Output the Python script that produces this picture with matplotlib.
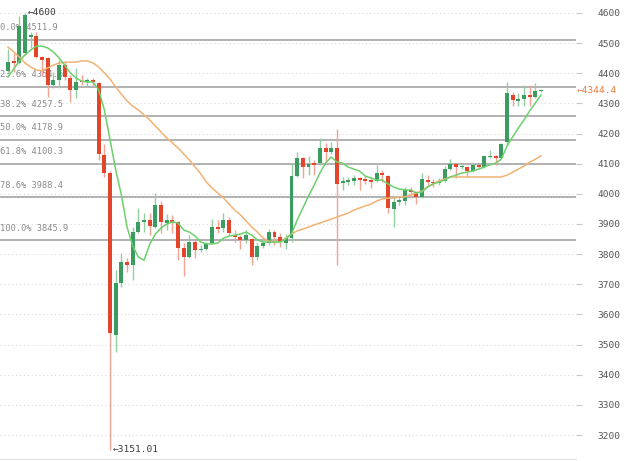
import matplotlib
matplotlib.use("Agg")
import matplotlib.pyplot as plt
import numpy as np

# ---------------- data ----------------
opens = [4408, 4440, 4434, 4467, 4520, 4524, 4455, 4450, 4361, 4378,
         4427, 4384, 4345, 4375, 4371, 4378, 4368, 4129, 4069, 3532,
         3704, 3774, 3764, 3873, 3906, 3913, 3890, 3963, 3903, 3912,
         3906, 3820, 3790, 3840, 3814, 3818, 3837, 3890, 3887, 3913,
         3864, 3857, 3847, 3850, 3790, 3827, 3837, 3874, 3857, 3837,
         3853, 4059, 4119, 4089, 4102, 4102, 4152, 4139, 4152, 4036,
         4040, 4043, 4053, 4050, 4046, 4043, 4069, 4059, 3950, 3973,
         3976, 4013, 4006, 3990, 4046, 4040, 4036, 4043, 4082, 4099,
         4089, 4089, 4076, 4096, 4089, 4122, 4126, 4119, 4172, 4328,
         4308, 4315, 4328, 4321, 4342]
highs = [4481, 4467, 4590, 4600, 4537, 4537, 4457, 4454, 4404, 4444,
         4437, 4394, 4417, 4394, 4384, 4384, 4371, 4165, 4075, 3747,
         3804, 3787, 3890, 3953, 3936, 3936, 4003, 3976, 3933, 3930,
         3910, 3837, 3863, 3847, 3830, 3840, 3916, 3913, 3936, 3923,
         3880, 3864, 3880, 3853, 3837, 3850, 3885, 3880, 3870, 3867,
         4102, 4139, 4122, 4126, 4112, 4185, 4169, 4172, 4215, 4056,
         4056, 4063, 4056, 4059, 4056, 4096, 4079, 4063, 3990, 3993,
         4023, 4023, 4010, 4069, 4063, 4050, 4053, 4092, 4115, 4102,
         4099, 4092, 4102, 4099, 4128, 4145, 4129, 4169, 4371, 4338,
         4335, 4361, 4361, 4368, 4348]
lows = [4404, 4404, 4430, 4460, 4484, 4450, 4390, 4321, 4351, 4351,
        4378, 4305, 4318, 4361, 4354, 4358, 4112, 4056, 3151.01, 3475,
        3691, 3741, 3714, 3870, 3873, 3863, 3887, 3870, 3880, 3870,
        3780, 3727, 3787, 3787, 3808, 3815, 3835, 3870, 3873, 3863,
        3840, 3817, 3837, 3764, 3780, 3820, 3830, 3830, 3824, 3817,
        3840, 4056, 4053, 4063, 4063, 4096, 4106, 4132, 3764, 4013,
        4030, 4030, 4013, 4033, 4020, 4040, 4040, 3936, 3890, 3963,
        3963, 3986, 3966, 3986, 4030, 4023, 4030, 4040, 4079, 4053,
        4082, 4056, 4073, 4085, 4085, 4119, 4096, 4115, 4162, 4291,
        4291, 4291, 4291, 4318, 4338]
closes = [4437, 4435, 4557, 4593, 4527, 4454, 4445, 4361, 4378, 4427,
          4388, 4345, 4371, 4370, 4378, 4371, 4132, 4069, 3538, 3704,
          3774, 3764, 3873, 3906, 3913, 3893, 3963, 3906, 3913, 3906,
          3822, 3790, 3840, 3813, 3818, 3834, 3890, 3883, 3913, 3870,
          3858, 3847, 3864, 3790, 3827, 3837, 3874, 3857, 3840, 3853,
          4059, 4119, 4089, 4099, 4096, 4152, 4139, 4152, 4033, 4043,
          4046, 4053, 4046, 4043, 4040, 4069, 4063, 3953, 3973, 3980,
          4013, 4006, 3990, 4050, 4040, 4036, 4043, 4082, 4099, 4089,
          4092, 4076, 4096, 4089, 4126, 4126, 4119, 4165, 4335, 4311,
          4315, 4328, 4321, 4341, 4344.4]
ma_fast = [4388, 4414, 4441, 4461, 4477, 4490, 4490, 4484, 4471, 4451,
           4427, 4401, 4384, 4374, 4371, 4371, 4345, 4278, 4179, 4079,
           3996, 3890, 3827, 3790, 3780, 3833, 3867, 3887, 3900, 3907,
           3903, 3880, 3873, 3860, 3840, 3834, 3834, 3837, 3853, 3860,
           3863, 3867, 3873, 3863, 3847, 3840, 3840, 3840, 3840, 3850,
           3867, 3913, 3953, 3993, 4029, 4069, 4102, 4122, 4106, 4102,
           4089, 4082, 4076, 4059, 4053, 4046, 4046, 4033, 4023, 4016,
           4013, 4013, 4003, 4006, 4023, 4033, 4039, 4046, 4056, 4062,
           4069, 4072, 4076, 4082, 4089, 4096, 4102, 4115, 4158, 4189,
           4218, 4245, 4275, 4301, 4328]
ma_slow = [4487, 4471, 4454, 4434, 4421, 4411, 4408, 4418, 4427, 4434,
           4437, 4437, 4437, 4441, 4441, 4434, 4421, 4401, 4381, 4354,
           4331, 4308, 4291, 4278, 4262, 4245, 4225, 4205, 4185, 4169,
           4152, 4132, 4112, 4089, 4066, 4039, 4019, 4003, 3986, 3966,
           3946, 3930, 3910, 3890, 3873, 3853, 3843, 3840, 3840, 3853,
           3867, 3877, 3883, 3890, 3897, 3903, 3910, 3916, 3923, 3930,
           3936, 3946, 3953, 3960, 3966, 3976, 3983, 3986, 3986, 3990,
           3990, 3996, 4003, 4009, 4023, 4033, 4043, 4049, 4056, 4056,
           4056, 4056, 4056, 4056, 4056, 4056, 4056, 4056, 4062, 4072,
           4082, 4092, 4105, 4115, 4126]

fib_levels = [0.0, 23.6, 38.2, 50.0, 61.8, 78.6, 100.0]
fib_values = [4511.9, 4354.6, 4257.5, 4178.9, 4100.3, 3988.4, 3845.9]
y_ticks = list(range(3200, 4700, 100))
last_price = 4344.4
high_mark = 4600
low_mark = 3151.01

# ---------------- styles ----------------
GREEN = "#3c9b5f"
RED = "#e2452a"
GREEN_WICK = "#93cfa3"
RED_WICK = "#f2a393"
MONO = "DejaVu Sans Mono"

fig = plt.figure(figsize=(6.24, 4.61), dpi=100)
ax = fig.add_axes([0, 2 / 461, 576 / 624, 459 / 461])
ax.set_xlim(-8 / 5.67, 568 / 5.67)
ax.set_ylim(3120.4, 4643.1)

x = np.arange(len(opens))
o = np.array(opens, float)
h = np.array(highs, float)
l = np.array(lows, float)
c = np.array(closes, float)
up = c >= o

# grid (dotted) at each tick level
for v in y_ticks:
    ax.axhline(v, color="#d9d9d9", lw=0.8, ls=(0, (1, 2.5)), zorder=0.5)

# fibonacci lines + labels
for lvl, val in zip(fib_levels, fib_values):
    ax.axhline(val, color="#ababab", lw=1.3, zorder=1)
    ax.annotate(f"{lvl:.1f}% {val}", xy=(0, val),
                xycoords=("axes fraction", "data"),
                xytext=(0.3, 8.8), textcoords="offset points",
                ha="left", va="center", fontsize=6.3, family=MONO,
                color="#8a8a8a", zorder=1.5)

# wicks
ax.vlines(x[up], l[up], h[up], color=GREEN_WICK, lw=1.0, zorder=2)
ax.vlines(x[~up], l[~up], h[~up], color=RED_WICK, lw=1.0, zorder=2)

# bodies
body_low = np.minimum(o, c)
body_h = np.maximum(np.abs(c - o), 3.5)
ax.bar(x[up], body_h[up], bottom=body_low[up], width=0.7, color=GREEN,
       linewidth=0, zorder=3)
ax.bar(x[~up], body_h[~up], bottom=body_low[~up], width=0.7, color=RED,
       linewidth=0, zorder=3)

# moving-average lines
ax.plot(x, ma_slow, color="#f2b274", lw=1.1, zorder=4)
ax.plot(x, ma_fast, color="#6cd06c", lw=1.1, zorder=4)

# high / low markers
i_hi = int(np.argmax(h))
i_lo = int(np.argmin(l))
ax.annotate(f"\u2190{high_mark}", xy=(x[i_hi], high_mark),
            xytext=(2, 0), textcoords="offset points", ha="left",
            va="center", fontsize=6.8, family=MONO, color="#3a3a3a",
            zorder=5)
ax.annotate(f"\u2190{low_mark}", xy=(x[i_lo], low_mark),
            xytext=(2, 0), textcoords="offset points", ha="left",
            va="center", fontsize=6.8, family=MONO, color="#3a3a3a",
            zorder=5)

# last price marker on the right
ax.annotate(f"\u2190{last_price}", xy=(1, last_price),
            xycoords=("axes fraction", "data"), xytext=(0.5, 0),
            textcoords="offset points", ha="left", va="center",
            fontsize=6.8, family=MONO, color="#f07a3c",
            annotation_clip=False, zorder=5)

# axes styling
ax.set_xticks([])
ax.yaxis.tick_right()
ax.set_yticks(y_ticks)
ax.set_yticklabels([str(v) for v in y_ticks], family=MONO)
ax.tick_params(axis="y", length=4, width=0.8, color="#c8c8c8",
               pad=11.5, labelsize=6.8, labelcolor="#555555")
for s in ["top", "left", "right"]:
    ax.spines[s].set_visible(False)
ax.spines["bottom"].set_color("#e4e4e4")
ax.spines["bottom"].set_linewidth(1.0)

fig.savefig("out.png", dpi=100, facecolor="white")
